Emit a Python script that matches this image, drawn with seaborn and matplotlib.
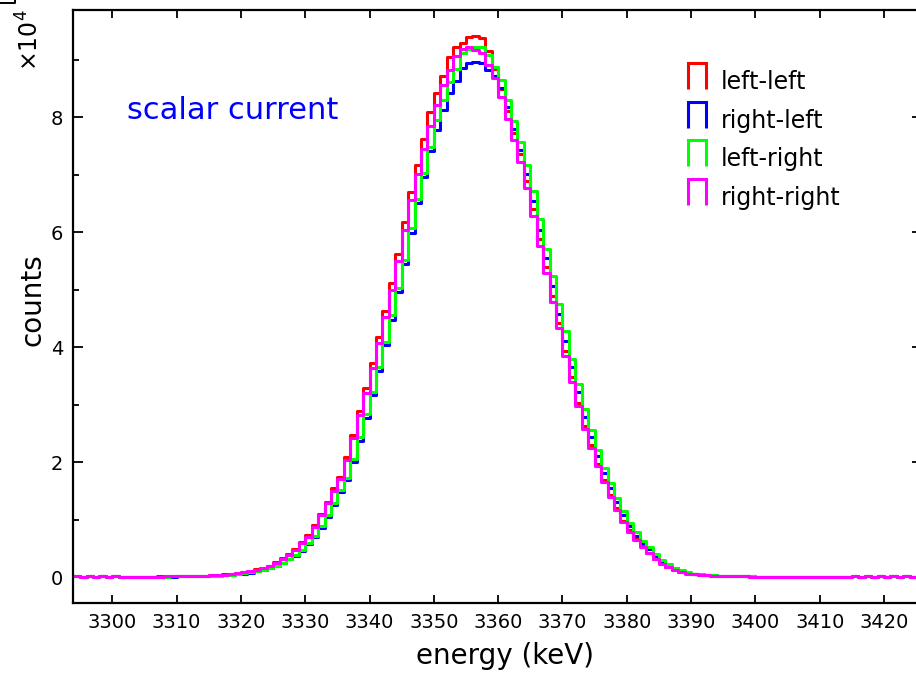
import numpy as np
import pandas as pd
import matplotlib
matplotlib.use("Agg")
import matplotlib.pyplot as plt
from matplotlib.lines import Line2D
from matplotlib.legend_handler import HandlerBase
from matplotlib.ticker import FixedLocator
import seaborn as sns

# ---------------------------------------------------------------------------
# Energy spectra, 1 keV bins starting at 3294 keV (counts per bin)
# ---------------------------------------------------------------------------
bin_start_kev = 3294
bin_width_kev = 1

left_left = [
    150, 40, 180, 60, 170, 50, 120, 60, 90, 70,                     # 3294-3303
    80, 85, 90, 95, 100, 105, 110, 125, 150, 180,                   # 3304-3313
    220, 280, 350, 450, 550, 680, 850, 1050, 1350, 1650,            # 3314-3323
    2000, 2600, 3300, 4000, 4900, 6100, 7300, 9000, 11000, 13100,   # 3324-3333
    15400, 17400, 20800, 24700, 28800, 32800, 37200, 41700, 46300, 51200,  # 3334-3343
    56200, 61800, 67000, 71700, 76200, 80800, 84200, 87200, 90500, 92200,  # 3344-3353
    92800, 94000, 94100, 93700, 91400, 88400, 84800, 81100, 77300, 73500,  # 3354-3363
    68900, 64000, 58800, 53900, 48900, 44200, 39300, 34700, 30300, 26300,  # 3364-3373
    22900, 19700, 16900, 14300, 12000, 9800, 8100, 6600, 5400, 4200,       # 3374-3383
    3200, 2400, 1800, 1300, 950, 650, 500, 400, 300, 250,           # 3384-3393
    200, 180, 150, 120, 100, 90, 80, 75, 70, 65,                    # 3394-3403
    60, 60, 55, 55, 50, 50, 50, 45, 45, 40,                         # 3404-3413
    40, 150, 30, 170, 40, 160, 30, 170, 40, 160,                    # 3414-3423
    50,                                                             # 3424
]

right_left = [
    120, 50, 150, 50, 140, 50, 100, 60, 75, 70,
    70, 75, 75, 80, 85, 90, 95, 100, 115, 135,
    160, 190, 240, 300, 380, 480, 600, 780, 980, 1270,
    1570, 1870, 2440, 3130, 3740, 4610, 5780, 6890, 8530, 10500,
    12600, 14800, 16800, 20000, 23700, 27700, 31600, 35900, 40300, 44700,
    49500, 54400, 59800, 65000, 69600, 74100, 77800, 81200, 84200, 86200,
    88500, 89400, 89500, 89400, 88200, 87200, 85000, 81700, 78000, 74300,
    70100, 65400, 60400, 55400, 50600, 45800, 41100, 36500, 32100, 27900,
    24300, 21000, 18100, 15400, 13000, 10800, 8800, 7200, 5900, 4800,
    3650, 2700, 2000, 1500, 1070, 770, 550, 440, 350, 280,
    220, 180, 150, 130, 110, 95, 85, 80, 75, 70,
    65, 60, 55, 55, 50, 50, 50, 45, 45, 40,
    40, 130, 40, 150, 40, 140, 40, 150, 40, 140,
    50,
]

left_right = [
    130, 60, 160, 40, 150, 60, 100, 70, 80, 75,
    75, 80, 80, 85, 90, 95, 100, 105, 120, 140,
    170, 200, 250, 320, 400, 500, 620, 850, 1000, 1300,
    1600, 1900, 2500, 3200, 3800, 4700, 5900, 7100, 8800, 10800,
    12900, 15100, 17200, 20500, 24300, 28300, 32200, 36500, 40900, 45500,
    50200, 55200, 60700, 65700, 70300, 74700, 79500, 83000, 86100, 88300,
    91100, 91800, 92200, 92200, 90800, 88700, 86400, 83000, 79300, 75600,
    71700, 67100, 62200, 57100, 52300, 47400, 42800, 38000, 33600, 29300,
    25500, 22100, 19000, 16300, 13800, 11500, 9400, 7800, 6300, 5200,
    4000, 3000, 2200, 1650, 1180, 880, 600, 480, 400, 300,
    250, 200, 170, 140, 120, 100, 90, 80, 75, 70,
    65, 60, 60, 55, 55, 50, 50, 45, 45, 40,
    40, 140, 30, 160, 40, 150, 30, 160, 40, 150,
    50,
]

right_right = [
    140, 50, 170, 50, 160, 60, 110, 70, 85, 75,
    80, 80, 85, 90, 95, 100, 105, 120, 145, 175,
    210, 270, 340, 430, 530, 660, 830, 1000, 1300, 1600,
    1900, 2500, 3200, 3800, 4700, 5900, 7000, 8700, 10700, 12800,
    15000, 17000, 20300, 24100, 28100, 32000, 36300, 40700, 45200, 50000,
    54900, 60400, 65500, 70100, 74500, 78500, 82100, 85600, 88200, 90600,
    91900, 92100, 91700, 91100, 89000, 86800, 83400, 79700, 76000, 72200,
    67600, 62700, 57600, 52800, 47900, 43300, 38500, 34000, 29700, 25800,
    22400, 19300, 16600, 14000, 11700, 9600, 7900, 6400, 5300, 4100,
    3100, 2300, 1700, 1200, 900, 600, 500, 400, 300, 250,
    200, 170, 150, 120, 100, 90, 80, 75, 70, 65,
    60, 55, 55, 50, 50, 50, 45, 45, 40, 40,
    40, 140, 40, 160, 50, 150, 40, 160, 50, 150,
    60,
]

series_labels = ["left-left", "right-left", "left-right", "right-right"]
series_values = [left_left, right_left, left_right, right_right]
series_colors = ["#ff0000", "#0000ff", "#00ff00", "#ff00ff"]

x_tick_values = [3300, 3310, 3320, 3330, 3340, 3350, 3360,
                 3370, 3380, 3390, 3400, 3410, 3420]
y_tick_values = [0, 20000, 40000, 60000, 80000]
y_tick_labels = ["0", "2", "4", "6", "8"]
y_minor_values = [10000, 30000, 50000, 70000, 90000]

annotation_text = "scalar current"

# ---------------------------------------------------------------------------
# Long-form table: one row per bin and configuration
# ---------------------------------------------------------------------------
n_bins = len(left_left)
bin_edges = [float(bin_start_kev + bin_width_kev * i) for i in range(n_bins + 1)]
bin_centers = [e + 0.5 * bin_width_kev for e in bin_edges[:-1]]

frames = []
for label, values in zip(series_labels, series_values):
    frames.append(pd.DataFrame({"energy": bin_centers,
                                "counts": values,
                                "config": label}))
spectra = pd.concat(frames, ignore_index=True)


class StepHandler(HandlerBase):
    """Legend key drawn as a small open-bottom histogram bin."""

    def create_artists(self, legend, orig_handle, xdescent, ydescent,
                       width, height, fontsize, trans):
        x0 = -xdescent
        x1 = x0 + width
        y0 = 0.0
        y1 = 1.1 * fontsize
        key = Line2D([x0, x0, x1, x1], [y0, y1, y1, y0],
                     color=orig_handle.get_color(),
                     linewidth=orig_handle.get_linewidth(),
                     solid_joinstyle="miter", solid_capstyle="butt",
                     transform=trans)
        return [key]


sns.set_theme(style="ticks")
plt.rcParams["font.family"] = ["DejaVu Sans"]
plt.rcParams["mathtext.fontset"] = "dejavusans"
plt.rcParams["text.color"] = "black"
plt.rcParams["axes.labelcolor"] = "black"
plt.rcParams["xtick.color"] = "black"
plt.rcParams["ytick.color"] = "black"

W, H = 916, 678
fig = plt.figure(figsize=(W / 100, H / 100), dpi=100)
px_per_kev = 6.431
ax_left, ax_right, ax_top, ax_bottom = 72.7, 922.0, 10.0, 603.3
ax = fig.add_axes([ax_left / W, 1 - ax_bottom / H,
                   (ax_right - ax_left) / W, (ax_bottom - ax_top) / H])

line_w = 2.2
for label, color in zip(series_labels, series_colors):
    sub = spectra[spectra["config"] == label]
    sns.histplot(data=sub, x="energy", weights="counts", bins=bin_edges,
                 element="step", fill=False, color=color,
                 linewidth=line_w, ax=ax)

x_lo = 3293.84
ax.set_xlim(x_lo, x_lo + (ax_right - ax_left) / px_per_kev)
ax.set_ylim(-4570, 98610)

ax.xaxis.set_major_locator(FixedLocator(x_tick_values))
ax.set_xticklabels([str(v) for v in x_tick_values])
ax.yaxis.set_major_locator(FixedLocator(y_tick_values))
ax.yaxis.set_minor_locator(FixedLocator(y_minor_values))
ax.set_yticklabels(y_tick_labels)

for side in ["left", "right", "top", "bottom"]:
    ax.spines[side].set_visible(True)
    ax.spines[side].set_linewidth(1.6)
    ax.spines[side].set_color("black")

ax.tick_params(which="both", direction="in", top=True, right=True,
               color="black", width=1.3, labelcolor="black")
ax.tick_params(axis="x", which="major", length=5.8, pad=7, labelsize=14)
ax.tick_params(axis="y", which="major", length=7.0, pad=7, labelsize=14)
ax.tick_params(axis="y", which="minor", length=4.3, right=False)

ax.set_xlabel("energy (keV)", fontsize=20, color="black")
ax.xaxis.set_label_coords((505 - ax_left) / (ax_right - ax_left), -0.066)
ax.set_ylabel("counts", fontsize=20, color="black")
ax.yaxis.set_label_coords(-(ax_left - 46) / (ax_right - ax_left), 0.511)

# scale factor of the count axis
fig.text(30 / W, 1 - 40 / H, r"$\times10^{4}$", rotation=90,
         ha="center", va="center", fontsize=17, color="black")

# small corner mark in the upper-left margin
fig.add_artist(Line2D([0, 15 / W, 15 / W], [1 - 2.7 / H, 1 - 2.7 / H, 1.0],
                      transform=fig.transFigure, color="black", lw=1.4))

fig.text(126.8 / W, 1 - 119.3 / H, annotation_text, color="#0000ff",
         fontsize=22, ha="left", va="baseline")

handles = [Line2D([], [], color=c, linewidth=line_w) for c in series_colors]
ax.legend(handles, series_labels, handler_map={Line2D: StepHandler()},
          loc="upper left", bbox_to_anchor=(688 / W, 1 - 70 / H),
          bbox_transform=fig.transFigure, frameon=False, fontsize=17,
          handlelength=0.75, handleheight=1.1, handletextpad=0.65,
          labelspacing=0.6, borderpad=0, borderaxespad=0,
          labelcolor="black")

fig.savefig("out.png", dpi=100)
